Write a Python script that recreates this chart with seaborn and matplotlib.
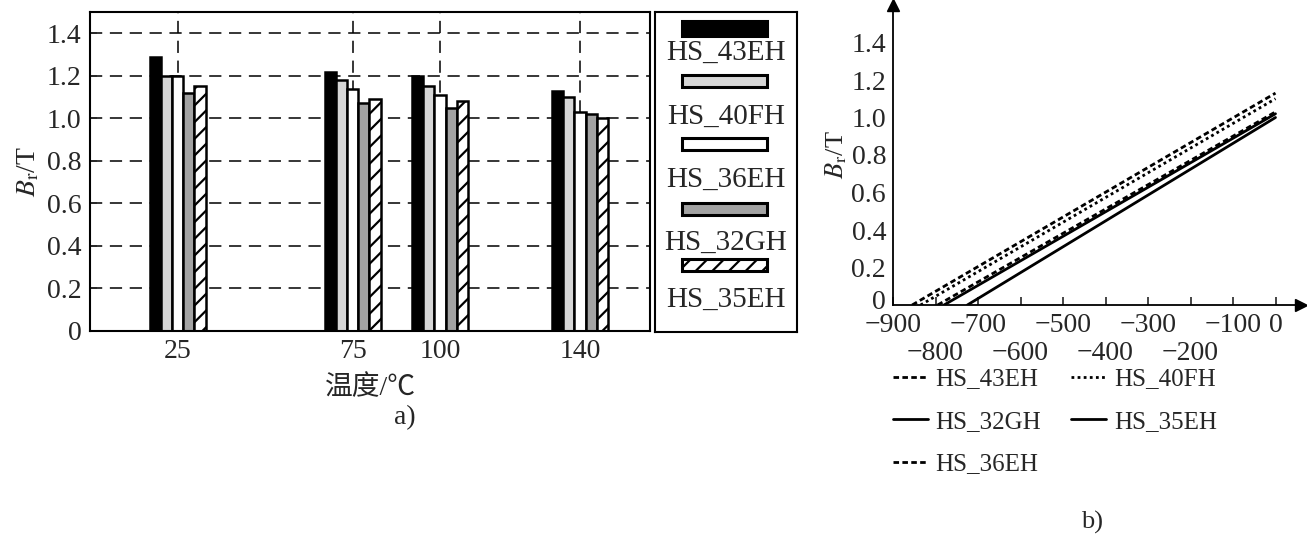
import numpy as np
import pandas as pd
import seaborn as sns
import matplotlib.pyplot as plt
import matplotlib.transforms as mtransforms
from matplotlib.patches import Rectangle
from matplotlib.lines import Line2D

# ---- data ----
grades = ['HS_43EH', 'HS_40FH', 'HS_36EH', 'HS_32GH', 'HS_35EH']
temps = [25, 75, 100, 140]
br_43eh = [1.29, 1.22, 1.20, 1.13]
br_40fh = [1.20, 1.18, 1.15, 1.10]
br_36eh = [1.20, 1.14, 1.11, 1.03]
br_32gh = [1.12, 1.07, 1.05, 1.02]
br_35eh = [1.15, 1.09, 1.08, 1.00]

# demagnetisation lines (panel b): H where B=0, and Br at H=0
line_grades = ['HS_43EH', 'HS_40FH', 'HS_36EH', 'HS_32GH', 'HS_35EH']
h_zero = [-855, -835, -795, -780, -725]
br_zero = [1.13, 1.10, 1.03, 1.02, 1.00]

sns.set_style('white')
plt.rcParams['font.family'] = ['Liberation Serif', 'Noto Sans CJK SC']
plt.rcParams['mathtext.fontset'] = 'stix'
plt.rcParams['hatch.linewidth'] = 1.6

bar_colors = {'HS_43EH': 'black', 'HS_40FH': '#d6d6d6', 'HS_36EH': 'white',
              'HS_32GH': '#a3a3a3', 'HS_35EH': 'white'}

rows = []
for g, vals in zip(grades, [br_43eh, br_40fh, br_36eh, br_32gh, br_35eh]):
    for t, v in zip(temps, vals):
        rows.append({'grade': g, 'temp': t, 'br': v})
df_bar = pd.DataFrame(rows)

fig = plt.figure(figsize=(13.07, 5.37), dpi=100)
W, H = 1307, 537

# ---- panel a ----
ax = fig.add_axes([90 / W, 1 - 331 / H, 560 / W, 319 / H])
sns.barplot(ax=ax, data=df_bar, x='temp', y='br', hue='grade', hue_order=grades,
            palette=bar_colors, native_scale=True, width=0.64,
            edgecolor='black', linewidth=1.8, saturation=1, legend=False)
for p in ax.containers[4].patches:
    p.set_hatch('//')
ax.set_xlim(0, 160)
ax.set_ylim(0, 1.5)
ax.set_xticks(temps)
ax.set_xticklabels([str(t) for t in temps], fontsize=20)
ax.set_yticks(np.arange(0, 1.41, 0.2))
ax.set_yticklabels(['0', '0.2', '0.4', '0.6', '0.8', '1.0', '1.2', '1.4'], fontsize=20)
ax.tick_params(axis='y', direction='in', length=5, width=1.2, left=True, pad=6)
ax.tick_params(axis='x', length=0, pad=6)
ax.grid(True, color='black', linestyle=(0, (8, 5)), linewidth=1.1)
ax.set_axisbelow(True)
for s in ax.spines.values():
    s.set_color('black')
    s.set_linewidth(1.5)
ax.set_xlabel('温度/℃', fontsize=20, labelpad=8)
ax.set_ylabel(r'$B_{\rm r}$/T', fontsize=20, labelpad=4)

# legend box for panel a
lax = fig.add_axes([655 / W, 1 - 332 / H, 142 / W, 320 / H])
lax.set_xlim(0, 142)
lax.set_ylim(320, 0)
lax.set_xticks([])
lax.set_yticks([])
for s in lax.spines.values():
    s.set_color('black')
    s.set_linewidth(1.5)
handle_y = [16, 69, 132, 197, 253]
label_y = [41, 105, 168, 231, 288]
for i, g in enumerate(grades):
    h = 15 if i == 0 else 12
    r = Rectangle((27, handle_y[i] - h / 2), 85, h, facecolor=bar_colors[g],
                  edgecolor='black', linewidth=2.2, hatch='//' if i == 4 else None)
    lax.add_patch(r)
    lax.text(71, label_y[i], g, ha='center', va='center', fontsize=21)

fig.text(405 / W, 1 - 418 / H, 'a)', ha='center', va='center', fontsize=20)

# ---- panel b ----
rows = []
for g, h0, b0 in zip(line_grades, h_zero, br_zero):
    rows.append({'grade': g, 'H': h0, 'B': 0.0})
    rows.append({'grade': g, 'H': 0, 'B': b0})
df_line = pd.DataFrame(rows)

line_dashes = {'HS_43EH': (2, 1.2), 'HS_40FH': (1, 1.2), 'HS_36EH': (2, 1.2),
               'HS_32GH': '', 'HS_35EH': ''}
bx = fig.add_axes([893 / W, 1 - 305 / H, 408 / W, 300 / H])
sns.lineplot(ax=bx, data=df_line, x='H', y='B', hue='grade', style='grade',
             hue_order=line_grades, style_order=line_grades,
             palette=['black'] * 5, dashes=line_dashes, linewidth=2,
             legend=False, sort=False)
bx.set_xlim(-900, 60)
bx.set_ylim(0, 1.6)
bx.set_xlabel('')
bx.set_ylabel(r'$B_{\rm r}$/T', fontsize=19, labelpad=2)
bx.spines['top'].set_visible(False)
bx.spines['right'].set_visible(False)
for s in ['left', 'bottom']:
    bx.spines[s].set_color('black')
    bx.spines[s].set_linewidth(1.3)
bx.plot(1, 0, marker='>', color='black', markersize=9,
        transform=bx.transAxes, clip_on=False)
bx.plot(0, 1, marker='^', color='black', markersize=9,
        transform=bx.transAxes, clip_on=False)

row1 = [-900, -700, -500, -300, -100, 0]
row2 = [-800, -600, -400, -200]
bx.set_xticks(row1)
bx.set_xticklabels(['\u2212900', '\u2212700', '\u2212500', '\u2212300', '\u2212100', '0'], fontsize=20)
bx.set_xticks(row2, minor=True)
bx.set_xticklabels(['\u2212800', '\u2212600', '\u2212400', '\u2212200'], minor=True, fontsize=20)
bx.tick_params(axis='x', which='major', direction='in', length=6, width=1.2, pad=6, bottom=True)
bx.tick_params(axis='x', which='minor', direction='in', length=6, width=1.2, pad=26, bottom=True)
bx.set_yticks(np.arange(0, 1.41, 0.2))
bx.set_yticklabels(['0', '0.2', '0.4', '0.6', '0.8', '1.0', '1.2', '1.4'], fontsize=20)
bx.tick_params(axis='y', length=0, pad=5)
# lift the "0" label a little so it clears the -900 label
lbl0 = bx.get_yticklabels()[0]
lbl0.set_transform(lbl0.get_transform() +
                   mtransforms.ScaledTranslation(0, 4 / 72, fig.dpi_scale_trans))

# legend for panel b (two columns, filled column-wise)
leg_order = ['HS_43EH', 'HS_32GH', 'HS_36EH', 'HS_40FH', 'HS_35EH']
handles = []
for g in leg_order:
    d = line_dashes[g]
    ls = '-' if d == '' else (0, d)
    handles.append(Line2D([], [], color='black', linewidth=2, linestyle=ls))
fig.legend(handles, leg_order, ncol=2, loc='upper left',
           bbox_to_anchor=(893 / W, 1 - 368 / H), frameon=False, fontsize=18,
           handlelength=1.4, handletextpad=0.3, columnspacing=1.2,
           labelspacing=0.8, borderaxespad=0, borderpad=0)

fig.text(1092 / W, 1 - 522 / H, 'b)', ha='center', va='center', fontsize=19)

plt.savefig('out.png', dpi=100)
